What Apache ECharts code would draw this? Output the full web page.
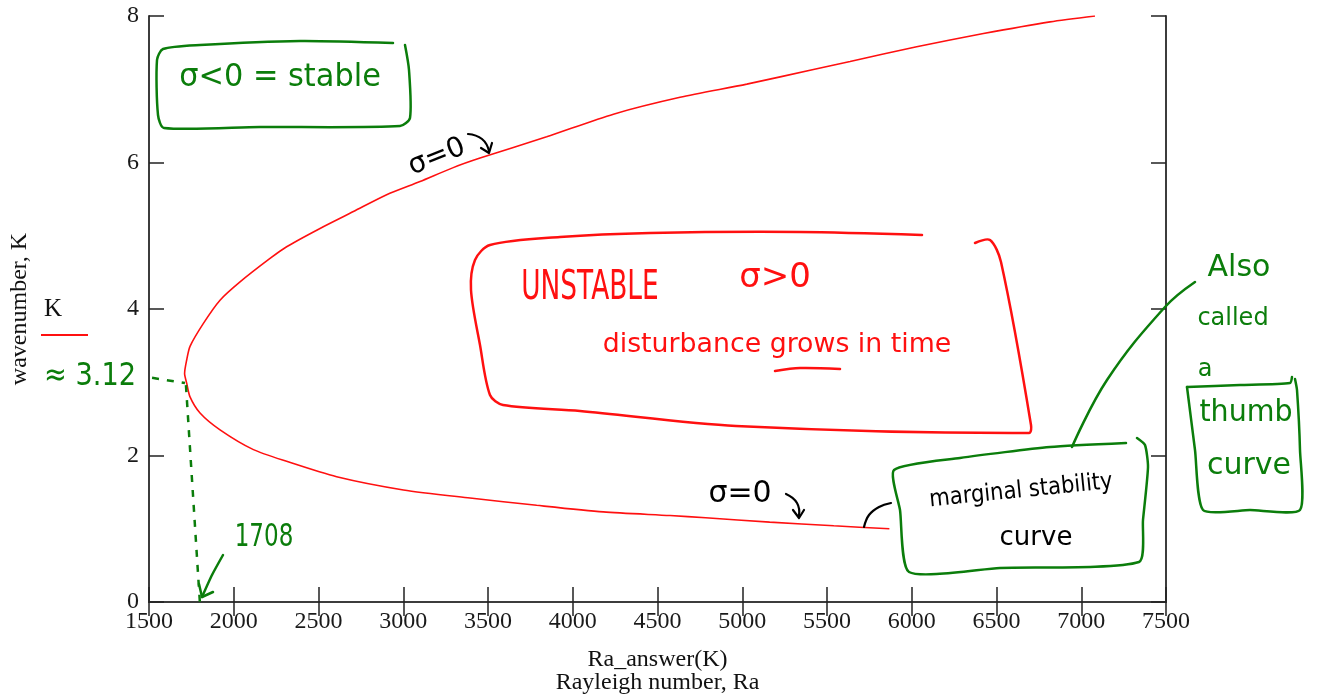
<!DOCTYPE html>
<html>
<head>
<meta charset="utf-8">
<script src="https://cdn.jsdelivr.net/npm/echarts@6/dist/echarts.min.js"></script>
<style>
  html, body { margin: 0; padding: 0; background: #ffffff; }
  #chart { width: 1317px; height: 696px; }
</style>
</head>
<body>
<div id="chart"></div>
<script>
// ---- data ----
const raLower = [5868, 5540, 5162, 4784, 4574, 4180, 3787, 3394, 3001, 2607, 2312, 2116, 1919, 1801, 1742, 1722, 1710];
const kLower  = [1.00, 1.04, 1.09, 1.15, 1.18, 1.23, 1.32, 1.42, 1.53, 1.71, 1.92, 2.08, 2.35, 2.58, 2.80, 2.99, 3.12];
const raUpper = [1722, 1742, 1820, 1919, 2037, 2214, 2312, 2509, 2706, 2902, 3099, 3295, 3453, 3846, 4240, 4633, 5027, 5420, 5636, 6029, 6423, 6816, 7081];
const kUpper  = [3.30, 3.49, 3.80, 4.12, 4.37, 4.69, 4.85, 5.10, 5.33, 5.56, 5.74, 5.93, 6.06, 6.35, 6.66, 6.89, 7.07, 7.27, 7.38, 7.58, 7.76, 7.92, 8.00];
const xTicks = [1500, 2000, 2500, 3000, 3500, 4000, 4500, 5000, 5500, 6000, 6500, 7000, 7500];
const yTicks = [0, 2, 4, 6, 8];
// hand-drawn guide lines (data coordinates): horizontal to K≈3.12, vertical down to Ra≈1708
const guideH = [[1518, 3.06], [1712, 2.99]];
const guideV = [[1718, 2.96], [1800, 0]];

const curve = raLower.map((r, i) => [r, kLower[i]]).concat(raUpper.map((r, i) => [r, kUpper[i]]));

const GREEN = '#0b7d0b';
const RED = '#ff1010';
const HAND = '"DejaVu Sans", "Noto Sans", sans-serif';
const SERIF = '"Liberation Serif", "DejaVu Serif", serif';

function txt(x, y, text, color, size, opts) {
  opts = opts || {};
  return {
    type: 'text', x: x, y: y, rotation: opts.rotation || 0,
    scaleX: opts.scaleX || 1, scaleY: opts.scaleY || 1,
    z: 100,
    style: {
      text: text, fill: color,
      font: (opts.weight || 'normal') + ' ' + size + 'px ' + (opts.family || HAND),
      textAlign: opts.align || 'center', align: opts.align || 'center',
      textVerticalAlign: 'middle', verticalAlign: 'middle'
    }
  };
}
function pl(points, color, width, smooth) {
  return {
    type: 'polyline', z: 100,
    shape: { points: points, smooth: smooth === undefined ? 0.3 : smooth },
    style: { stroke: color, lineWidth: width || 2.5, fill: null, lineCap: 'round', lineJoin: 'round' }
  };
}

const graphics = [
  // legend
  txt(53, 309, 'K', '#111', 25, { family: SERIF }),
  { type: 'line', z: 100, shape: { x1: 41, y1: 335, x2: 88, y2: 335 }, style: { stroke: RED, lineWidth: 2 } },

  // sigma<0 = stable box
  pl([[393, 43], [300, 41], [200, 45], [163, 49], [157, 60], [158, 115], [164, 128], [260, 127], [400, 126], [410, 118], [409, 70], [405, 45]], GREEN, 2.5, 0.25),
  txt(280, 78, 'σ<0 = stable', GREEN, 32, { scaleX: 0.95 }),

  // sigma=0 upper
  txt(437, 157, 'σ=0', '#000', 28, { rotation: 0.38 }),
  pl([[468, 134], [482, 139], [489, 151]], '#000', 2.2, 0.5),
  pl([[481, 148], [489, 153], [492, 143]], '#000', 2.2, 0),

  // UNSTABLE box
  pl([[922, 235], [800, 232], [650, 233], [560, 237], [490, 245], [475, 260], [471, 290], [480, 345], [490, 395], [503, 405], [580, 411], [736, 426], [1029, 433], [1031, 425], [1001, 262], [990, 240], [975, 243]], RED, 2.5, 0.3),
  txt(590, 289, 'UNSTABLE', RED, 40, { scaleX: 0.66 }),
  txt(775, 278, 'σ>0', RED, 34),
  txt(777, 345, 'disturbance grows in time', RED, 26, { scaleX: 1.03 }),
  pl([[775, 371], [800, 368], [840, 369]], RED, 2.5, 0.3),

  // sigma=0 lower
  txt(740, 494, 'σ=0', '#000', 30),
  pl([[786, 494], [797, 503], [799, 516]], '#000', 2.2, 0.5),
  pl([[793, 510], [799, 518], [804, 510]], '#000', 2.2, 0),
  pl([[864, 527], [869, 515], [879, 507], [891, 503]], '#000', 2.2, 0.4),

  // marginal stability box
  pl([[1126, 443], [1050, 447], [960, 458], [894, 470], [900, 510], [909, 572], [1000, 568], [1139, 562], [1143, 520], [1148, 467], [1145, 445], [1137, 438]], GREEN, 2.5, 0.2),
  txt(1021, 491, 'marginal stability', '#000', 24, { rotation: 0.1, scaleX: 0.88 }),
  txt(1036, 538, 'curve', '#000', 26),

  // leader line
  pl([[1072, 447], [1107, 380], [1165, 307], [1195, 282]], GREEN, 2.5, 0.4),

  // thumb curve note
  txt(1239, 268, 'Also', GREEN, 30),
  txt(1233, 319, 'called', GREEN, 24),
  txt(1205, 370, 'a', GREEN, 24),
  pl([[1187, 387], [1240, 385], [1290, 383], [1292, 377]], GREEN, 2.5, 0.2),
  pl([[1295, 379], [1297, 390], [1300, 450], [1300, 510], [1250, 510], [1203, 510], [1195, 450], [1187, 387]], GREEN, 2.5, 0.2),
  txt(1246, 413, 'thumb', GREEN, 30, { scaleX: 0.95 }),
  txt(1249, 466, 'curve', GREEN, 30),

  // ≈ 3.12 and 1708
  txt(90, 377, '≈ 3.12', GREEN, 32, { scaleX: 0.85 }),
  txt(264, 538, '1708', GREEN, 32, { scaleX: 0.72 }),
  pl([[223, 555], [212, 575], [202, 597]], GREEN, 2.5, 0.2),
  pl([[199, 584], [202, 597], [213, 592]], GREEN, 2.5, 0)
];

const chart = echarts.init(document.getElementById('chart'), null, { renderer: 'canvas' });
const axisLineStyle = { color: '#3c3c3c', width: 2 };
const tickStyle = { color: '#222', width: 1.5 };
const plainNum = v => String(v);
chart.setOption({
  animation: false,
  backgroundColor: '#ffffff',
  grid: { left: 149, right: 151, top: 16, bottom: 94, containLabel: false, outerBoundsMode: 'none' },
  xAxis: [
    {
      type: 'value', min: xTicks[0], max: xTicks[xTicks.length - 1], interval: xTicks[1] - xTicks[0],
      position: 'bottom',
      name: 'Ra_answer(K)\nRayleigh number, Ra', nameLocation: 'middle', nameGap: 46,
      nameTextStyle: { fontFamily: SERIF, fontSize: 24, color: '#111', lineHeight: 23 },
      axisLine: { show: true, lineStyle: axisLineStyle },
      axisTick: { show: true, inside: true, length: 15, lineStyle: tickStyle },
      axisLabel: { fontFamily: SERIF, fontSize: 24, color: '#1a1a1a', margin: 8, showMinLabel: true, showMaxLabel: true, formatter: plainNum },
      splitLine: { show: false }
    },
    {
      type: 'value', min: xTicks[0], max: xTicks[xTicks.length - 1], interval: xTicks[1] - xTicks[0],
      position: 'top',
      axisLine: { show: true, lineStyle: axisLineStyle },
      axisTick: { show: true, inside: true, length: 14, lineStyle: tickStyle },
      axisLabel: { show: false },
      splitLine: { show: false }
    }
  ],
  yAxis: [
    {
      type: 'value', min: yTicks[0], max: yTicks[yTicks.length - 1], interval: yTicks[1] - yTicks[0],
      position: 'left',
      name: 'wavenumber, K', nameLocation: 'middle', nameGap: 117, nameRotate: 90,
      nameTextStyle: { fontFamily: SERIF, fontSize: 24, color: '#111' },
      axisLine: { show: true, lineStyle: axisLineStyle },
      axisTick: { show: true, inside: true, length: 15, lineStyle: tickStyle },
      axisLabel: { fontFamily: SERIF, fontSize: 24, color: '#1a1a1a', margin: 10, showMinLabel: true, showMaxLabel: true, formatter: plainNum },
      splitLine: { show: false }
    },
    {
      type: 'value', min: yTicks[0], max: yTicks[yTicks.length - 1], interval: yTicks[1] - yTicks[0],
      position: 'right',
      axisLine: { show: true, lineStyle: axisLineStyle },
      axisTick: { show: true, inside: true, length: 15, lineStyle: tickStyle },
      axisLabel: { show: false },
      splitLine: { show: false }
    }
  ],
  series: [
    {
      name: 'K', type: 'line', xAxisIndex: 0, yAxisIndex: 0,
      data: curve, showSymbol: false, smooth: 0.25,
      lineStyle: { color: RED, width: 1.6 },
      markLine: {
        silent: true, symbol: ['none', 'none'], label: { show: false },
        lineStyle: { color: GREEN, width: 2.5, type: [7, 8] },
        data: [
          [{ coord: guideH[0] }, { coord: guideH[1] }],
          [{ coord: guideV[0] }, { coord: guideV[1] }]
        ]
      }
    }
  ],
  graphic: graphics
});
</script>
</body>
</html>
